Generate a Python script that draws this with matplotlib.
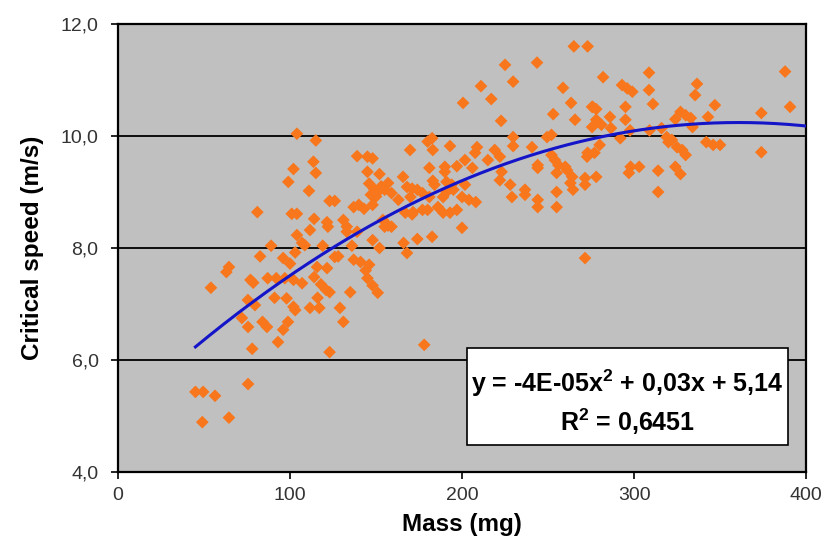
import numpy as np
import matplotlib
matplotlib.use("Agg")
import matplotlib.pyplot as plt
from matplotlib.patches import Rectangle

# ---------------- data ----------------
mass = [
    # low region
    54, 77, 78.6, 87, 92, 102, 114, 118, 121, 123, 145, 148, 151, 135, 75.5, 79.6, 91, 98,
    102, 103, 111.6, 117, 116, 129, 72, 75.6, 84, 86.6, 98.8, 96, 131, 78, 93, 123, 75.6,
    45, 49.5, 56.4, 49, 64.5, 97, 107, 100, 146, 144,
    # 36-158 mg, 7.4-10.3
    104, 115, 139, 145, 148, 113.6, 102, 115, 145, 152, 99, 111, 146, 149, 151, 147, 150, 153,
    123, 126, 81, 101, 104, 137, 140, 143, 148, 114, 121.5, 122, 131, 133, 133, 111.6, 104,
    154, 155, 139, 148, 107, 108.6, 89, 119, 136, 152, 103, 82.6, 96, 128, 137, 141, 64.5, 63,
    115.7, 121.5, 126,
    # 155-277 mg, upper
    225, 243.6, 211, 229.7, 217, 200.6, 258.7, 263.4, 275.6, 222.7, 253, 265.7, 275.6, 182.6,
    180, 183, 169.8, 193, 208.7, 207.6, 229.7, 229.7, 240.7, 249.4, 252, 219, 222, 201.7, 215,
    190, 190, 181, 197, 206, 223, 222, 228, 229, 236.6, 236.6, 244, 244, 252, 254, 256, 260,
    255, 261, 264, 263, 264.5, 271.5, 271.5, 272.7, 273, 244, 244, 255, 255, 191, 194, 183, 184,
    201.7, 195, 200, 204, 208, 189, 191, 197, 157, 165.7, 155, 159, 168, 171, 174, 163, 170,
    177, 181, 186, 177, 171.5, 189, 193, 180, 167, 171, 265, 273,
    # 155-277 mg, lower
    200, 182.6, 174, 159, 166, 168, 271.5, 178, 157,
    # 274-400 mg
    282, 308.7, 387.8, 293, 296, 299, 308.7, 336.6, 335.5, 311, 276, 278, 295, 347, 390.7, 374,
    327, 330, 333, 343, 286, 278, 281, 295, 324, 286.6, 297.7, 309, 316, 334, 292, 319, 322, 320,
    342, 346, 350, 374, 280, 277, 325, 328, 330, 278, 298, 297, 303, 314, 324, 327, 314,
]
speed = [
    # low region
    7.29, 7.43, 7.38, 7.46, 7.46, 7.43, 7.48, 7.35, 7.25, 7.21, 7.46, 7.33, 7.20, 7.21, 7.07, 6.98, 7.11, 7.10,
    6.95, 6.89, 6.93, 6.93, 7.11, 6.93, 6.75, 6.59, 6.68, 6.59, 6.68, 6.54, 6.68, 6.20, 6.32, 6.14, 5.57,
    5.43, 5.43, 5.36, 4.89, 4.97, 7.46, 7.37, 7.72, 7.70, 7.60,
    # 36-158 mg, 7.4-10.3
    10.04, 9.92, 9.64, 9.63, 9.60, 9.54, 9.41, 9.34, 9.36, 9.32, 9.18, 9.02, 9.15, 9.05, 9.00, 8.95, 8.92, 9.10,
    8.84, 8.84, 8.64, 8.61, 8.61, 8.73, 8.77, 8.70, 8.77, 8.52, 8.46, 8.38, 8.50, 8.38, 8.29, 8.32, 8.23,
    8.50, 8.38, 8.29, 8.14, 8.09, 8.05, 8.04, 8.04, 8.04, 8.00, 7.92, 7.85, 7.82, 7.85, 7.79, 7.75, 7.66, 7.57,
    7.66, 7.64, 7.84,
    # 155-277 mg, upper
    11.27, 11.31, 10.89, 10.97, 10.66, 10.59, 10.86, 10.59, 10.52, 10.27, 10.39, 10.29, 10.16, 9.96,
    9.90, 9.75, 9.75, 9.82, 9.80, 9.70, 9.98, 9.82, 9.80, 9.98, 10.02, 9.75, 9.63, 9.57, 9.57,
    9.45, 9.36, 9.43, 9.46, 9.43, 9.36, 9.21, 9.13, 8.91, 9.04, 8.95, 9.48, 9.43, 9.66, 9.57, 9.48, 9.45,
    9.34, 9.39, 9.27, 9.16, 9.04, 9.25, 9.13, 9.63, 9.70, 8.86, 8.73, 9.00, 8.73, 9.18, 9.13, 9.20, 9.13,
    9.13, 9.04, 8.91, 8.86, 8.82, 8.91, 9.00, 8.68, 9.16, 9.27, 9.04, 8.98, 9.09, 9.06, 9.04, 8.86, 8.91,
    8.98, 8.91, 8.73, 8.68, 8.64, 8.63, 8.63, 8.68, 8.63, 8.60, 11.60, 11.60,
    # 155-277 mg, lower
    8.36, 8.20, 8.16, 8.38, 8.09, 7.91, 7.82, 6.27, 8.40,
    # 274-400 mg
    11.05, 11.13, 11.15, 10.91, 10.85, 10.79, 10.82, 10.93, 10.73, 10.57, 10.52, 10.48, 10.52, 10.55, 10.52, 10.41,
    10.43, 10.37, 10.32, 10.34, 10.34, 10.29, 10.20, 10.29, 10.30, 10.14, 10.10, 10.10, 10.14, 10.16, 9.96, 9.98, 9.93, 9.89,
    9.89, 9.84, 9.84, 9.71, 9.84, 9.70, 9.80, 9.75, 9.66, 9.27, 9.45, 9.34, 9.45, 9.38, 9.45, 9.32, 9.00,
]

# polynomial trend line coefficients (a*x^2 + b*x + c) as drawn in the chart
trend_coef = [-4.02e-5, 0.0290, 5.01]

x_ticks = [0, 100, 200, 300, 400]
x_ticklabels = ["0", "100", "200", "300", "400"]
y_ticks = [4.0, 6.0, 8.0, 10.0, 12.0]
y_ticklabels = ["4,0", "6,0", "8,0", "10,0", "12,0"]
x_label = "Mass (mg)"
y_label = "Critical speed (m/s)"
eq_line1 = "y = -4E-05x$^2$ + 0,03x + 5,14"
eq_line2 = "R$^2$ = 0,6451"

# ---------------- figure ----------------
plt.rcParams["mathtext.default"] = "regular"
plt.rcParams["font.family"] = ["Liberation Sans", "DejaVu Sans"]

fig = plt.figure(figsize=(8.23, 5.45), dpi=100)
fig.patch.set_facecolor("white")
ax = fig.add_axes([0.1434, 0.134, 0.836, 0.822])
ax.set_facecolor("#C0C0C0")

ax.set_xlim(0, 400)
ax.set_ylim(4, 12)

for yv in y_ticks[1:-1]:
    ax.axhline(yv, color="black", lw=1.3, zorder=1)

x = np.asarray(mass, dtype=float)
y = np.asarray(speed, dtype=float)
ax.scatter(x, y, marker="D", s=42, color="#F8761C", edgecolors="none", zorder=3)

xx = np.linspace(x.min(), ax.get_xlim()[1], 300)
ax.plot(xx, np.polyval(trend_coef, xx), color="#1414C8", lw=2.2, zorder=4)

for s in ax.spines.values():
    s.set_color("black")
    s.set_linewidth(1.6)

ax.set_xticks(x_ticks)
ax.set_xticklabels(x_ticklabels)
ax.set_yticks(y_ticks)
ax.set_yticklabels(y_ticklabels)
ax.tick_params(axis="both", direction="out", length=5, width=1.2, color="black",
               labelsize=14, labelcolor="#333333")
ax.tick_params(axis="y", pad=9)
ax.tick_params(axis="x", pad=6)

ax.set_xlabel(x_label, fontsize=17.5, fontweight="bold", labelpad=6)
ax.set_ylabel(y_label, fontsize=17.5, fontweight="bold", labelpad=12)

# equation box
ax.add_patch(Rectangle((0.507, 0.060), 0.467, 0.217, transform=ax.transAxes,
                       facecolor="white", edgecolor="black", lw=1.2, zorder=5))
ax.text(0.740, 0.197, eq_line1, transform=ax.transAxes, ha="center", va="center",
        fontsize=18, fontweight="bold", zorder=6)
ax.text(0.740, 0.113, eq_line2, transform=ax.transAxes, ha="center", va="center",
        fontsize=18, fontweight="bold", zorder=6)

fig.savefig("out.png", dpi=100)
